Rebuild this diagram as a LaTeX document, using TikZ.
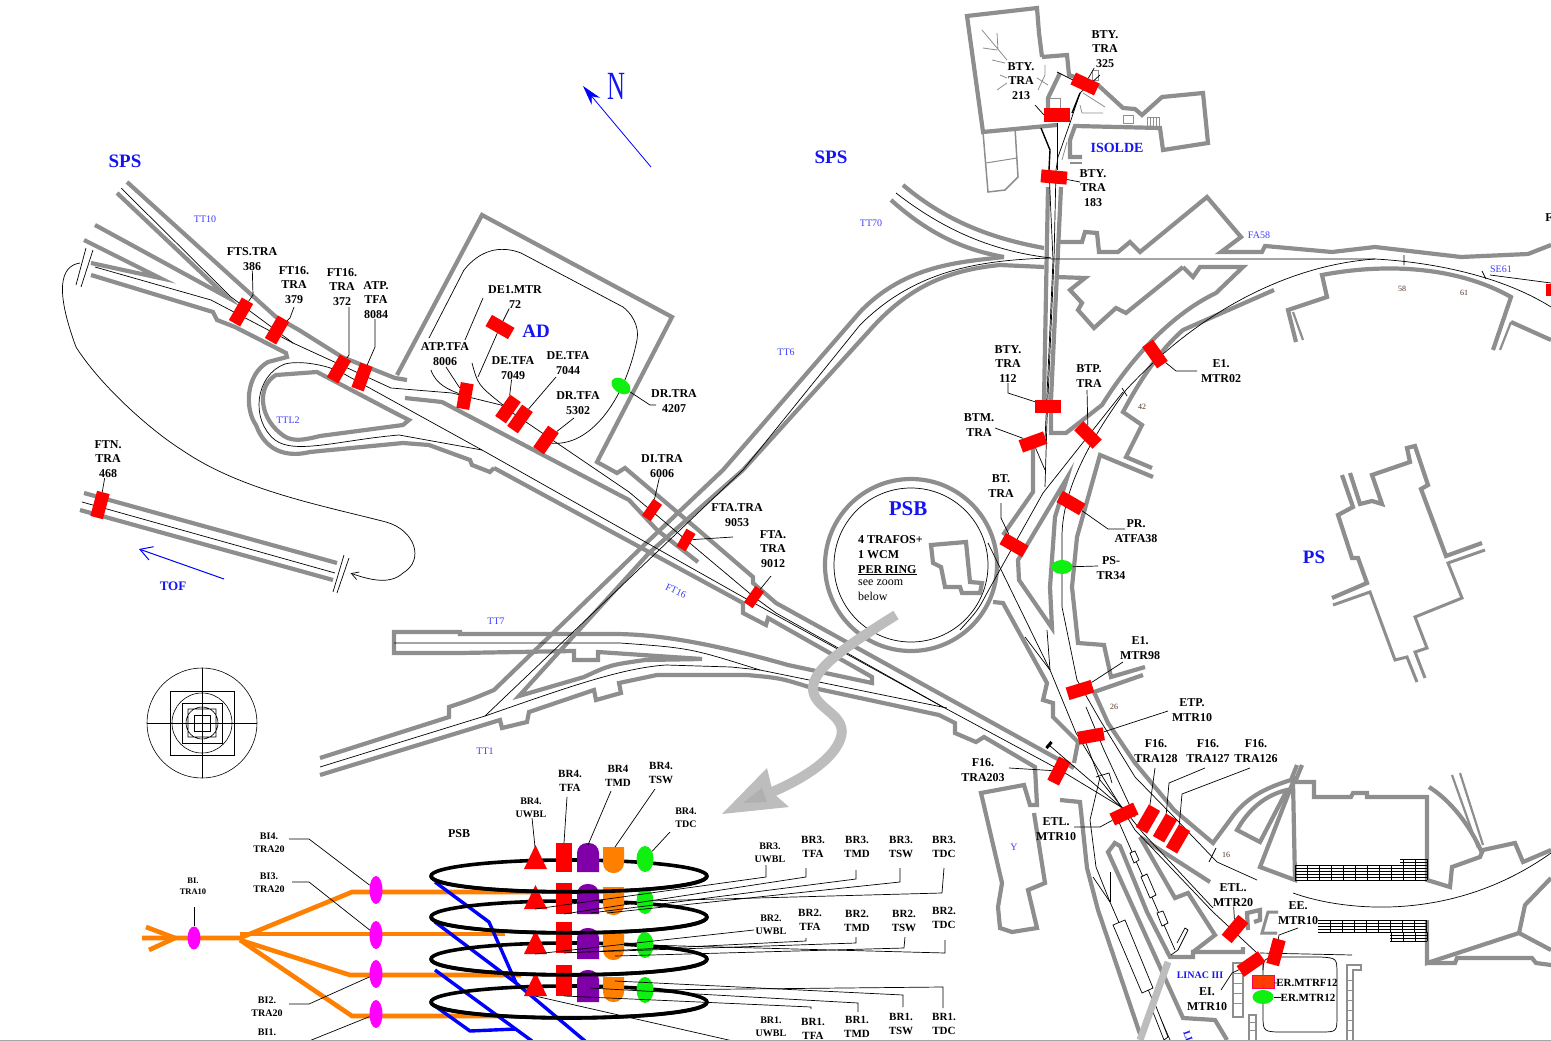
\documentclass[tikz,border=0pt]{standalone}
\usepackage{fontspec}
\setmainfont{Liberation Serif}
\usetikzlibrary{arrows.meta,shapes.geometric}
\definecolor{wallgray}{HTML}{8E8E8E}
\definecolor{arrowgray}{HTML}{BDBDBD}
\definecolor{namblue}{HTML}{1414F0}
\definecolor{nrblue}{HTML}{3C3CFF}
\definecolor{ringorange}{HTML}{FF8000}
\definecolor{ringpurple}{HTML}{7F00A8}
\definecolor{ringgreen}{HTML}{10F010}
\definecolor{ringpink}{HTML}{FF00FF}
\definecolor{nbrown}{HTML}{503020}
\begin{document}
\begin{tikzpicture}[
  x=1pt,y=-1pt,
  wall/.style={draw=wallgray,line width=4.2pt},
  thinwall/.style={draw=wallgray,line width=2.2pt},
  beam/.style={draw=black,line width=.7pt},
  lead/.style={draw=black,line width=.7pt},
  mag/.style={
    rectangle,
    fill=red,
    inner sep=0pt,
    minimum width=26pt,
    minimum height=13pt
  },
  magn/.style={mag,minimum width=20pt,minimum height=10.5pt},
  wcm/.style={ellipse,fill=ringgreen,inner sep=0pt,minimum width=21pt,minimum height=14pt},
  tag/.style={font=\fontsize{12}{14.8}\selectfont\bfseries,align=center,inner sep=0pt},
  tagn/.style={font=\fontsize{10}{13}\selectfont\bfseries,align=center,inner sep=0pt},
  tagm/.style={font=\fontsize{11}{14}\selectfont\bfseries,align=center,inner sep=0pt},
  area/.style={font=\fontsize{19}{20}\selectfont\bfseries,text=namblue,inner sep=0pt},
  tunnel/.style={font=\fontsize{10}{11}\selectfont,text=nrblue,inner sep=0pt},
  km/.style={font=\fontsize{8}{9}\selectfont,text=nbrown,inner sep=0pt},
  bi/.style={ellipse,fill=ringpink,inner sep=0pt,minimum width=13pt,minimum height=28pt},
  tdc/.style={ellipse,fill=ringgreen,inner sep=0pt,minimum width=17pt,minimum height=26pt},
  ring/.style={draw=black,line width=3.6pt},
  inj/.style={draw=ringorange,line width=4.6pt},
  rec/.style={draw=blue,line width=3.4pt}]
  \useasboundingbox (0,0) rectangle (1551,1041);

  % TT10 and the loop
  \draw[wall] (127,182) -- (276,317) -- (299,330) -- (342,357) -- (395,378) -- (407,380);
  \draw[wall] (117,193) -- (227,297) -- (95,225);
  \draw[wall] (84,240) -- (160,278) -- (91,263);
  \draw[wall] (91,275) -- (213,312) -- (217,320) -- (235,327) -- (286,353) -- (287,357) -- (268,362)
    .. controls (245,375) and (245,410) .. (256,425) .. controls (265,450) and (285,458) .. (310,452)
    -- (403,443) -- (429,445) -- (470,460) -- (472,465) -- (490,472) -- (494,468);
  \draw[wall] (317,372) -- (276,375) .. controls (258,385) and (258,415) .. (280,433)
    .. controls (290,442) and (300,441) .. (320,436) -- (403,425) -- (409,420) -- (399,415) -- cycle;
  % AD hall
  \draw[wall] (397,375) -- (482,215) -- (672,317) -- (597,462) -- (617,473) -- (625,468) -- (696,528)
    -- (753,577) -- (753,583) -- (776,603) -- (1074,768);
  \draw[wall] (405,398) -- (442,402) -- (629,500) -- (657,530) -- (698,562);
  \draw[wall] (494,468) -- (743,603) -- (743,613) -- (766,625) -- (768,618) -- (872,677) -- (872,683) -- (788,665)
    .. controls (700,640) and (650,634) .. (613,634) -- (460,634) -- (460,632) -- (394,632) -- (394,653) -- (460,653)
    -- (574,651) -- (574,660) -- (598,660) -- (598,652) -- (702,659) -- (645,660)
    .. controls (610,665) .. (584,677) -- (519,696) -- (649,553) -- (743,470) -- (870,330)
    .. controls (910,285) and (950,270) .. (1000,265) -- (1044,267);
  % TOF line
  \draw[wall] (84,493) -- (337,563);
  \draw[wall] (80,510) -- (333,580);
  % TT6 and TT1
  \draw[wall] (320,758) -- (449,717) -- (449,707) .. controls (470,700) .. (494,690) -- (641,548) -- (723,470)
    -- (860,312) .. controls (905,265) and (960,262) .. (1004,257);
  \draw[wall] (320,775) -- (500,720) -- (502,728) -- (527,722) -- (529,712) -- (594,690) -- (596,700) -- (621,693)
    -- (619,683) -- (657,675) -- (747,675) .. controls (780,678) .. (809,687) -- (939,715) -- (955,723) -- (955,733)
    -- (976,742) -- (984,737) -- (1035,767) -- (1037,805) -- (1030,805) -- (1024,785) -- (981,793) -- (1002,883)
    -- (998,907) -- (1000,928) -- (1012,932) -- (1037,928) -- (1028,890) -- (1045,883) -- (1034,813);
  % TT70 and the BT line
  \draw[wall] (903,185) .. controls (950,225) and (1000,240) .. (1044,248);
  \draw[wall] (891,200) .. controls (930,235) and (965,250) .. (1004,257);
  \draw[wall] (1048,187) -- (1044,400);
  \draw[wall] (1061,187) -- (1051,400) -- (1051,433) -- (1066,433) -- (1102,405)
    .. controls (1130,360) and (1170,315) .. (1216,293) -- (1243,267) -- (1200,267) -- (1193,277) -- (1183,267);
  \draw[wall] (1183,267) -- (1126,313) -- (1116,308) -- (1094,328) -- (1078,310) -- (1082,303) -- (1070,290) -- (1085,278) -- (1056,277);
  \draw[wall] (1059,242) -- (1082,242) -- (1085,232) -- (1097,233) -- (1099,252) -- (1118,252) -- (1130,242) -- (1140,252)
    -- (1207,197) -- (1241,237) -- (1221,252) -- (1262,252) -- (1265,246) -- (1332,252) -- (1375,247) -- (1461,257)
    -- (1528,254) -- (1551,245);
  % PS ring, inner side
  \draw[wall] (1274,290) -- (1183,330) .. controls (1160,350) and (1140,380) .. (1123,412) -- (1142,425) -- (1126,457)
    -- (1152,468);
  \draw[wall] (1153,477) -- (1100,455) -- (1077,537) -- (1072,587) -- (1078,643) -- (1104,645)
    -- (1111,677) -- (1145,667);
  \draw[wall] (1143,675) -- (1094,692) -- (1108,723) -- (1135,763) -- (1174,810) -- (1213,843) -- (1230,820)
    .. controls (1245,798) and (1265,788) .. (1291,780) -- (1297,765);
  \draw[wall] (1302,765) -- (1295,782) -- (1314,782) -- (1314,797) -- (1351,797) -- (1353,793) -- (1367,793) -- (1367,797)
    -- (1427,797) -- (1427,880) -- (1450,887) -- (1452,867) -- (1480,857) -- (1483,850) -- (1515,843) -- (1523,862) -- (1551,850);
  \draw[wall] (1237,830) -- (1260,842) -- (1287,790) .. controls (1265,795) and (1248,810) .. cycle;
  \draw[wall] (1293,782) -- (1260,867) -- (1295,880) -- cycle;
  \draw[wall] (1429,787) .. controls (1450,800) and (1470,825) .. (1482,853);
  \draw[thinwall] (1452,775) -- (1478,848);
  \draw[thinwall] (1460,773) -- (1483,845);
  \draw[wall] (1427,920) -- (1427,963) -- (1519,933) -- (1551,950);
  \draw[wall] (1427,963) -- (1455,963) -- (1457,958) -- (1532,958) -- (1536,963) -- (1551,965);
  \draw[wall] (1519,933) -- (1525,905) -- (1551,878);
  % PS ring, north side
  \draw[wall] (1296,342) -- (1288,310) -- (1327,297) -- (1322,275) .. controls (1390,262) and (1460,268) .. (1511,297)
    -- (1493,350);
  \draw[wall] (1511,322) -- (1551,340);
  \draw[thinwall] (1303,340) -- (1293,312);
  \draw[thinwall] (1500,350) -- (1511,322);
  % PS buildings
  \draw[wall] (1342,475) -- (1353,507) -- (1338,515) -- (1352,558) -- (1358,558) -- (1367,583) -- (1332,598);
  \draw[wall] (1350,473) -- (1360,504) -- (1372,501) -- (1382,504) -- (1372,475) -- (1410,462) -- (1407,448) -- (1415,446)
    -- (1428,485) -- (1421,489) -- (1446,556) -- (1482,543);
  \draw[wall,line width=3pt] (1333,605) -- (1370,592) -- (1395,660) -- (1407,657) -- (1417,682);
  \draw[wall,line width=3pt] (1425,678) -- (1415,652) -- (1427,648) -- (1415,617) -- (1462,598) -- (1448,563) -- (1485,550);
  % ISOLDE
  \draw[wall] (1042,57) -- (1067,55) -- (1069,75) -- (1098,85) -- (1123,108) -- (1135,109) -- (1142,115) -- (1162,97)
    -- (1203,93) -- (1208,143) -- (1163,150) -- (1160,128) -- (1075,126) -- (1070,140) -- (1070,157) -- (1082,157);
  \draw[thinwall] (1070,163) -- (1082,163);
  \draw[wall] (1042,57) -- (1039,33) -- (1037,8) -- (967,16) -- (983,132) -- (1057,125);
  \draw[wall] (1060,73) -- (1048,98) -- (1048,108);
  \draw[thinwall,line width=1.5pt] (983,132) -- (988,192) -- (1005,190) -- (1018,177) -- (1015,128);
  \draw[thinwall,line width=1pt] (986,163) -- (1017,158);
  \draw[draw=wallgray,line width=.8pt] (982,30) -- (1007,60) (997,33) -- (998,50) (983,48) -- (997,50) (992,60) -- (1005,63)
    (1000,75) -- (1007,78) (997,90) -- (1007,83) (1045,65) -- (1045,75) -- (1038,90) (1037,78) -- (1048,85) (1082,113) -- (1103,113)
    (1083,93) -- (1105,107) (1080,105) -- (1082,113) (1067,142) -- (1062,160);
  \draw[draw=wallgray,line width=.7pt] (1123,115) rectangle (1133,123) (1147,117) rectangle (1159,127)
    (1092,70) rectangle (1098,80) (1048,98) rectangle (1060,108);
  \foreach \hx in {1150,1153,1156} {\draw[draw=wallgray,line width=.6pt] (\hx,117) -- (\hx,127);}
  % east side of the line down to LINAC
  \draw[wall] (1033,448) -- (1033,492) -- (1003,535);
  \draw[wall] (1067,478) -- (1018,560) -- (1019,580) -- (1052,628) -- (1050,587) -- (1055,517) -- cycle;
  \draw[wall] (993,602) -- (1003,603) -- (1047,683) -- (1043,700) -- (1053,703) -- (1053,717) -- (1078,742) -- (1074,763);
  \draw[wall] (1060,800) -- (1080,802) -- (1087,868) -- (1098,910) -- (1142,1040);
  \draw[wall] (1115,843) -- (1108,852) -- (1183,1018) -- (1215,1020) -- (1227,1040);
  \draw[wall] (1113,842) -- (1120,846) -- (1147,912) -- (1170,957) -- (1193,957) -- (1193,952) -- (1243,952) -- (1243,947);
  \draw[wall] (1140,837) -- (1175,898) -- (1188,893) -- (1215,935) -- (1193,952);
  \draw[wall] (1140,837) -- (1210,882);
  \draw[wall] (1248,930) -- (1247,913) -- (1260,910) -- (1260,920) -- (1254,922);
  \draw[wall,line width=3pt] (1277,933) -- (1262,933) -- (1268,912) -- (1278,912);
  % PSB
  \draw[wall] (911,565) circle (86);
  \draw[beam] (911,565) circle (77);
  \draw[wall] (931,545) -- (966,542) -- (970,582) -- (982,583) -- (980,593) -- (962,593) -- (960,587) -- (945,587) -- (941,567) -- (933,563) -- cycle;
  % hatching of the stairs
  \foreach \hy in {865,868,871,874,877,880} {\draw[line width=.4pt] (1295,\hy) -- (1427,\hy);}
  \foreach \hy in {859,862} {\draw[line width=.4pt] (1400,\hy) -- (1427,\hy);}
  \foreach \hx in {1295,1307,...,1427} {\draw[line width=.4pt] (\hx,865) -- (\hx,880);}
  \foreach \hx in {1403,1415,1427} {\draw[line width=.4pt] (\hx,859) -- (\hx,865);}
  \foreach \hy in {920,923,926,929,932} {\draw[line width=.4pt] (1318,\hy) -- (1427,\hy);}
  \foreach \hy in {935,938,941} {\draw[line width=.4pt] (1390,\hy) -- (1427,\hy);}
  \foreach \hx in {1330,1342,...,1426} {\draw[line width=.4pt] (\hx,920) -- (\hx,932);}
  \foreach \hx in {1391,1403,1415,1427} {\draw[line width=.4pt] (\hx,932) -- (\hx,941);}
  \foreach \hy in {973,983,993,1003} {\draw[thinwall,line width=.9pt] (1233,\hy) -- (1243,\hy);}
  \draw[thinwall,line width=1.6pt] (1233,963) -- (1233,1017) -- (1243,1017) -- (1243,963) -- cycle;
  \draw[thinwall,line width=1.6pt] (1249,1041) -- (1249,1015) -- (1256,1015) -- (1256,1041);
  \foreach \hy in {1022,1030} {\draw[thinwall,line width=.9pt] (1249,\hy) -- (1256,\hy);}
  \draw[thinwall,line width=1.6pt] (1347,1041) -- (1347,965) -- (1361,965) -- (1361,970) -- (1353,970) -- (1353,1041);
  \foreach \hy in {980,990,1000,1010,1020,1030} {\draw[thinwall,line width=.9pt] (1347,\hy) -- (1353,\hy);}

  % beams
  \draw[beam] (121,188) -- (231,297) -- (293,343) -- (391,388) -- (452,393) -- (501,405) -- (629,492) -- (754,597) -- (776,613) -- (943,707) -- (1060,770) -- (1121,807);
  \draw[beam] (95,267) -- (211,300) -- (293,343);
  \draw[beam] (346,375) .. controls (330,365) and (300,360) .. (285,364) .. controls (255,375) and (250,420) .. (275,440)
    .. controls (295,455) and (340,440) .. (399,435) -- (482,450) -- (743,597) -- (943,707);
  \draw[beam] (346,375) -- (482,450);
  \draw[beam] (394,643) -- (620,643) .. controls (690,648) .. (760,670) -- (947,708);
  \draw[beam] (320,767) -- (485,716) .. controls (560,690) and (620,668) .. (666,665) -- (731,667) -- (760,670);
  \draw[beam] (485,716) -- (743,470) -- (860,325) .. controls (915,270) and (980,260) .. (1051,258);
  \draw[beam] (896,193) .. controls (950,235) and (1000,252) .. (1051,258);
  \draw[beam] (82,502) -- (335,573);
  \draw[beam] (1100,75) -- (1080,93) -- (1070,123) -- (1058,157) -- (1056,170) -- (1054,260) -- (1047,420) -- (1045,487);
  \draw[beam] (1057,123) -- (1057,170);
  \draw[beam] (1049,170) -- (1053,260) -- (1045,440);
  \draw[beam,line width=1.4pt] (1080,93) -- (1072,113);
  \draw[beam,line width=1.4pt] (1041,128) -- (1050,150) -- (1049,170);
  \draw[beam] (1057,72) -- (1073,80);
  \draw[beam] (1051,259) -- (1375,259) .. controls (1430,262) and (1500,275) .. (1551,307);
  \draw[beam] (1490,275) -- (1551,283);
  \draw[beam] (1375,259) .. controls (1290,265) and (1200,310) .. (1126,390) .. controls (1090,440) and (1062,490) .. (1062,537)
    -- (1062,607) -- (1077,680) -- (1100,720) -- (1135,777) -- (1174,817) -- (1217,862) -- (1257,880);
  \draw[beam] (1293,893) .. controls (1340,910) and (1450,925) .. (1551,853);
  \draw[beam] (1123,392) -- (1043,493) -- (987,593) .. controls (978,610) .. (960,630);
  \draw[beam] (988,543) -- (1050,670) -- (1076,733) -- (1135,830) -- (1213,912) -- (1257,953) -- (1263,962) -- (1263,970);
  \draw[beam] (1047,630) -- (1050,670);
  \draw[beam] (1025,637) -- (1050,670);
  \draw[beam] (1086,707) -- (1104,750) -- (1135,817);
  \draw[beam] (1086,743) -- (1100,780) -- (1143,833) -- (1213,908);
  \draw[beam] (1096,777) -- (1109,773) -- (1112,783);
  \draw[beam] (1100,777) -- (1090,820) -- (1096,867) -- (1110,902) -- (1170,1040);
  \draw[beam] (1093,877) -- (1110,902);
  \draw[beam] (1110,872) -- (1110,902);
  \draw[beam] (1118,820) -- (1175,950);
  \draw[beam,fill=white] (1113,925) -- (1125,920) -- (1153,988) -- (1142,993) -- cycle;
  \draw[beam,fill=white] (1151,1007) -- (1155,1004) -- (1168,1037) -- (1164,1040) -- cycle;
  \draw[beam,fill=white] (1130,853) -- (1135,851) -- (1139,860) -- (1134,863) -- cycle;
  \draw[beam,fill=white] (1141,877) -- (1147,874) -- (1156,895) -- (1150,898) -- cycle;
  \draw[beam,fill=white] (1157,913) -- (1163,911) -- (1168,923) -- (1162,926) -- cycle;
  \draw[beam] (1177,943) -- (1185,928) -- (1188,930) -- (1178,950) -- (1171,955);
  \draw[beam] (1260,953) -- (1352,955);
  \draw[beam] (1263,975) .. controls (1263,958) .. (1280,957) -- (1320,957) .. controls (1337,958) .. (1337,975)
    -- (1337,1015) .. controls (1337,1032) .. (1320,1032) -- (1285,1032) .. controls (1263,1032) .. (1263,1015) -- (1263,1000);
  \draw[beam] (550,443) .. controls (590,448) and (625,400) .. (637,340) .. controls (640,325) and (630,312) .. (623,307) -- (521,253)
    .. controls (500,245) and (480,250) .. (464,270) -- (429,338);
  % loop to TOF with its arrow
  \node[inner sep=0pt] (tofend) at (350,573) {};
  \draw[beam,-{Straight Barb[length=7pt,width=8pt]}] (80,263) .. controls (60,266) and (55,290) .. (76,347)
    .. controls (100,385) and (150,430) .. (182,450) .. controls (240,490) and (320,505) .. (386,522)
    .. controls (415,530) and (425,560) .. (403,573) .. controls (390,585) and (370,580) .. (tofend);
  \draw[beam] (86,248) -- (76,285) (93,250) -- (81,287);
  \draw[beam] (344,555) -- (333,592) (349,558) -- (337,593);

  % compass
  \node[circle,draw,line width=.6pt,minimum size=110pt,inner sep=0pt] (comp) at (202,723) {};
  \draw[line width=.6pt] (147,723) -- (257,723) (202,668) -- (202,778);
  \draw[line width=.6pt] (170,691) rectangle (234,755);
  \draw[line width=.6pt] (202,723) circle (30);
  \draw[line width=.6pt] (182,703) rectangle (222,743);
  \draw[line width=.6pt] (188,709) rectangle (216,737) (202,723) circle (16);
  \draw[line width=.6pt] (194,715) rectangle (210,731);

  % big arrow to the zoom
  \draw[arrowgray,line width=10pt] (896,615) .. controls (840,650) and (812,670) .. (813,690) .. controls (815,710) and (850,715) .. (840,740) .. controls (830,765) and (790,785) .. (765,795);
  \fill[arrowgray] (722,814) -- (767,768) -- (773,793) -- (789,807) -- cycle;
  \fill[wallgray!70] (743,803) -- (762,788) -- (767,802) -- cycle;
  \draw[arrowgray,line width=7pt] (1168,962) -- (1140,1040);

  % north and TOF arrows
  \node[font=\fontsize{40}{40}\selectfont,text=namblue,inner sep=0pt] (north) at (616,86) {\scalebox{.62}[1]{N}};
  \coordinate (nfoot) at (651,167);
  \coordinate (ntip) at (583,86);
  \draw[blue,line width=.8pt,-{Stealth[length=20pt,width=11pt]}] (nfoot) -- (ntip);
  \coordinate (tfoot) at (224,579);
  \coordinate (ttip) at (139,549);
  \draw[blue,line width=1pt,-{Straight Barb[length=12pt,width=14pt]}] (tfoot) -- (ttip);

  % areas and tunnels
  \node[area] (spsa) at (125,161) {SPS};
  \node[area] (spsb) at (831,157) {SPS};
  \node[area] (ad) at (536,331) {AD};
  \node[area,font=\fontsize{21}{22}\selectfont\bfseries] (psb) at (908,509) {PSB};
  \node[area] (ps) at (1314,557) {PS};
  \node[area,font=\fontsize{14}{15}\selectfont\bfseries] (isolde) at (1117,148) {ISOLDE};
  \node[area,font=\fontsize{13}{14}\selectfont\bfseries] (tof) at (173,586) {TOF};
  \node[area,font=\fontsize{10}{11}\selectfont\bfseries] (linac) at (1200,975) {LINAC III};
  \node[area,font=\fontsize{10}{11}\selectfont\bfseries,rotate=-70] (linacb) at (1188,1036) {LI};
  \node[tunnel] (tt10) at (205,219) {TT10};
  \node[tunnel] (tt70) at (871,223) {TT70};
  \node[tunnel] (tt6) at (786,352) {TT6};
  \node[tunnel] (ttl2) at (288,420) {TTL2};
  \node[tunnel] (tt7) at (496,621) {TT7};
  \node[tunnel] (tt1) at (485,751) {TT1};
  \node[tunnel,rotate=-25] (ft16) at (676,591) {FT16};
  \node[tunnel] (fa58) at (1259,235) {FA58};
  \node[tunnel] (se61) at (1501,269) {SE61};
  \node[tunnel] (ybld) at (1014,847) {Y};
  \node[km] (k58) at (1402,289) {58};
  \node[km] (k61) at (1464,293) {61};
  \node[km] (k42) at (1142,407) {42};
  \node[km] (k26) at (1114,707) {26};
  \node[km] (k16) at (1226,855) {16};
  \draw[beam] (1404,255) -- (1404,265) (1482,271) -- (1486,279) (1122,388) -- (1127,396) (1209,862) -- (1216,848);

  % trafos, west side
  \node[mag,rotate=60] (fts386) at (241,312) {};
  \node[mag,rotate=60] (ft379) at (277,330) {};
  \node[mag,rotate=60] (ft372) at (339,369) {};
  \node[mag,rotate=70] (atp8084) at (362,377) {};
  \node[mag,rotate=-30] (de172) at (500,327) {};
  \node[mag,rotate=80] (atp8006) at (465,396) {};
  \node[mag,rotate=55] (de7049) at (508,409) {};
  \node[mag,rotate=55] (de7044) at (520,419) {};
  \node[mag,rotate=55] (dr5302) at (546,440) {};
  \node[magn,rotate=55] (di6006) at (652,510) {};
  \node[magn,rotate=60] (fta9053) at (686,540) {};
  \node[magn,rotate=55] (fta9012) at (754,597) {};
  \node[mag,rotate=75] (ftn468) at (100,505) {};
  \node[wcm,rotate=-35] (dr4207) at (621,386) {};
  \node[tag] (lfts386) at (252,259) {FTS.TRA\\386};
  \node[tag] (lft379) at (294,285) {FT16.\\TRA\\379};
  \node[tag] (lft372) at (342,287) {FT16.\\TRA\\372};
  \node[tag] (latp8084) at (376,300) {ATP.\\TFA\\8084};
  \node[tag] (lde172) at (515,297) {DE1.MTR\\72};
  \node[tag] (latp8006) at (445,354) {ATP.TFA\\8006};
  \node[tag] (lde7049) at (513,368) {DE.TFA\\7049};
  \node[tag] (lde7044) at (568,363) {DE.TFA\\7044};
  \node[tag] (ldr5302) at (578,403) {DR.TFA\\5302};
  \node[tag] (ldr4207) at (674,401) {DR.TRA\\4207};
  \node[tag] (ldi6006) at (662,466) {DI.TRA\\6006};
  \node[tag] (lfta9053) at (737,515) {FTA.TRA\\9053};
  \node[tag] (lfta9012) at (773,549) {FTA.\\TRA\\9012};
  \node[tag] (lftn468) at (108,459) {FTN.\\TRA\\468};
  \draw[lead] (lfts386) -- (253,295) -- (fts386);
  \draw[lead] (lft379) ++(0,22) -- (290,318) -- (ft379);
  \draw[lead] (349,307) -- (349,355) -- (ft372);
  \draw[lead] (latp8084.south) ++(-1,0) -- (375,347) -- (atp8084);
  \draw[lead] (lde172) -- (de172);
  \draw[lead] (de172) -- (478,377);
  \draw[lead] (483,298) -- (465,340);
  \draw[lead] (472,363) .. controls (478,385) .. (de7049);
  \draw[lead] (446,367) -- (atp8006);
  \draw[lead] (431,370) .. controls (436,385) and (450,390) .. (atp8006);
  \draw[lead] (lde7049) -- (de7049);
  \draw[lead] (556,377) -- (de7044);
  \draw[lead] (574,418) -- (dr5302);
  \draw[lead] (dr4207) -- (650,405) -- (656,405);
  \draw[lead] (ldi6006) -- (di6006);
  \draw[lead] (733,537) -- (fta9053);
  \draw[lead] (771,576) -- (fta9012);
  \draw[lead] (lftn468) -- (ftn468);

  % trafos, east side
  \node[mag,rotate=-25] (bty325) at (1085,84) {};
  \node[mag,minimum height=14pt] (bty213) at (1057,115) {};
  \node[mag,rotate=-5] (bty183) at (1054,177) {};
  \node[mag,minimum height=13pt] (bty112) at (1048,406) {};
  \node[mag,rotate=20] (btm) at (1033,442) {};
  \node[mag,rotate=-45] (btp) at (1088,435) {};
  \node[mag,rotate=-30] (bt) at (1014,545) {};
  \node[mag,rotate=-55] (e1mtr02) at (1155,354) {};
  \node[mag,rotate=-30] (pratfa) at (1071,503) {};
  \node[wcm] (pstr34) at (1062,567) {};
  \node[mag,rotate=17] (e1mtr98) at (1080,690) {};
  \node[mag,rotate=10] (etpmtr) at (1091,736) {};
  \node[mag,rotate=63] (f16203) at (1059,771) {};
  \node[mag,rotate=25] (etl10) at (1124,814) {};
  \node[mag,rotate=60] (f16128) at (1148,819) {};
  \node[mag,rotate=60] (f16127) at (1165,828) {};
  \node[mag,rotate=60] (f16126) at (1178,839) {};
  \node[mag,rotate=50] (etl20) at (1235,929) {};
  \node[mag,rotate=75] (eemtr) at (1276,952) {};
  \node[mag,rotate=35] (eimtr) at (1251,964) {};
  \node[mag,minimum width=22pt,minimum height=13pt,fill={rgb,255:red,255;green,60;blue,0},draw={rgb,255:red,255;green,0;blue,90},line width=.6pt] (ermtrf) at (1263,982) {};
  \node[wcm] (ermtr) at (1263,997) {};
  \node[fill=black,rotate=50,inner sep=0pt,minimum width=8pt,minimum height=3pt] (fstop) at (1049,745) {};
  \node[tag] (lbty325) at (1105,49) {BTY.\\TRA\\325};
  \node[tag] (lbty213) at (1021,81) {BTY.\\TRA\\213};
  \node[tag] (lbty183) at (1093,188) {BTY.\\TRA\\183};
  \node[tag] (lbty112) at (1008,364) {BTY.\\TRA\\112};
  \node[tag] (lbtm) at (979,425) {BTM.\\TRA};
  \node[tag] (lbtp) at (1089,376) {BTP.\\TRA};
  \node[tag] (lbt) at (1001,486) {BT.\\TRA};
  \node[tag] (le1mtr02) at (1221,371) {E1.\\MTR02};
  \node[tag] (lpratfa) at (1136,531) {PR.\\ATFA38};
  \node[tag] (lpstr34) at (1111,568) {PS-\\TR34};
  \node[tag] (le1mtr98) at (1140,648) {E1.\\MTR98};
  \node[tag] (letpmtr) at (1192,710) {ETP.\\MTR10};
  \node[tag] (lf16203) at (983,770) {F16.\\TRA203};
  \node[tag] (lf16128) at (1156,751) {F16.\\TRA128};
  \node[tag] (lf16127) at (1208,751) {F16.\\TRA127};
  \node[tag] (lf16126) at (1256,751) {F16.\\TRA126};
  \node[tag] (letl10) at (1056,829) {ETL.\\MTR10};
  \node[tag] (letl20) at (1233,895) {ETL.\\MTR20};
  \node[tag] (leemtr) at (1298,913) {EE.\\MTR10};
  \node[tag] (leimtr) at (1207,999) {EI.\\MTR10};
  \node[tagm] (lermtrf) at (1307,983) {ER.MTRF12};
  \node[tagm] (lermtr) at (1308,998) {ER.MTR12};
  \node[tag] (ledge) at (1549,218) {F};
  \node[fill=red,inner sep=0pt,minimum width=6pt,minimum height=12pt] (edgemag) at (1549,290) {};
  \draw[lead] (lbty325) -- (bty325);
  \draw[lead] (1035,105) -- (1044,115);
  \draw[lead] (bty183) -- (1080,182);
  \draw[lead] (lbty112) ++(0,19) -- (1008,393) -- (bty112);
  \draw[lead] (995,428) -- (btm);
  \draw[lead] (1087,390) -- (btp);
  \draw[lead] (1001,503) -- (1001,518) -- (bt);
  \draw[lead] (btm) -- (1045,470);
  \draw[lead] (e1mtr02) -- (1176,371) -- (1197,371);
  \draw[lead] (pratfa) -- (1108,529) -- (1125,529);
  \draw[lead] (pstr34) -- (1098,566);
  \draw[lead] (e1mtr98) -- (1123,662);
  \draw[lead] (etpmtr) -- (1168,711);
  \draw[lead] (1009,768) -- (f16203);
  \draw[lead] (1155,768) -- (f16128);
  \draw[lead] (1205,768) -- (1169,783) -- (f16127);
  \draw[lead] (1250,768) -- (1182,794) -- (f16126);
  \draw[lead] (1074,827) -- (1100,827) -- (etl10);
  \draw[lead] (letl20) -- (etl20);
  \draw[lead] (1298,928) -- (1279,935) -- (eemtr);
  \draw[lead] (eimtr) -- (1232,973) -- (1221,990);
  \draw[lead] (ermtrf) -- (1277,983);
  \draw[lead] (ermtr) -- (1281,997);
  \draw[lead] (fstop) -- (1121,807);

  % text in the PSB ring
  \node[tag,align=left,anchor=north west,font=\fontsize{12}{15}\selectfont\bfseries] (psbnote) at (858,535) {4 TRAFOS+\\1 WCM\\\underline{PER RING}};
  \node[tag,align=left,anchor=north west,font=\fontsize{12}{15}\selectfont] (psbzoom) at (858,580) {see zoom\\below};

  % zoom of the PSB rings, injection lines
  \draw[inj] (146,927) -- (175,938) -- (149,950);
  \draw[inj] (142,938) -- (240,938) -- (352,892) -- (532,892);
  \draw[inj] (240,934) -- (505,934);
  \draw[inj] (240,940) -- (350,975) -- (521,975);
  \draw[inj] (240,940) -- (352,1016) -- (500,1016);
  \draw[rec] (435,882) -- (489,922) -- (516,983);
  \draw[rec] (435,922) -- (516,983) -- (585,1041);
  \draw[rec] (435,970) -- (532,1041);
  \draw[rec] (435,1006) -- (470,1031) -- (516,1029);
  \node[bi,minimum height=23pt] (bi10) at (194,938) {};
  \node[bi] (bi4) at (376,890) {};
  \node[bi] (bi3) at (376,935) {};
  \node[bi] (bi2) at (376,974) {};
  \node[bi] (bi1) at (376,1014) {};
  % rings first, the monitors over them
  \draw[ring] (569,876) ellipse (138 and 16);
  \draw[ring] (569,917) ellipse (138 and 16);
  \draw[ring] (569,959) ellipse (138 and 16);
  \draw[ring] (569,1002) ellipse (138 and 16);
  \foreach \rr/\ta/\tb/\ra/\rb/\pa/\pb/\oa/\ob/\gg in {
    4/845/869/843/872/843/872/847/873/859,
    3/885/909/883/914/884/914/887/915/901,
    2/930/954/922/953/928/959/933/960/945,
    1/972/996/965/996/970/1002/977/1002/990} {
    \fill[red] (524,\tb) -- (535.5,\ta) -- (547,\tb) -- cycle;
    \fill[red] (556,\ra) rectangle (572,\rb);
    \fill[ringpurple,rounded corners=10pt] (577,\pb) [rounded corners=10pt] -- (577,\pa) -- (599,\pa) [sharp corners] -- (599,\pb) -- cycle;
    \fill[ringorange] (603,\oa) -- (624,\oa) [rounded corners=10pt] -- (624,\ob) -- (603,\ob) [sharp corners] -- cycle;
    \node[tdc] (tdcn\rr) at (645,\gg) {};
    \coordinate (uwbn\rr) at (535,\tb);
    \coordinate (tfan\rr) at (564,\rb);
    \coordinate (tmdn\rr) at (588,\pb);
    \coordinate (tswn\rr) at (613,\ob);
  }
  % front arcs of the rings
  \foreach \ry in {876,917,959,1002} {
    \draw[ring] (431,\ry) .. controls (431,\ry+21) and (707,\ry+21) .. (707,\ry);
  }

  % names in the zoom
  \node[tagn] (lbi4) at (269,843) {BI4.\\TRA20};
  \node[tagn] (lbi3) at (269,883) {BI3.\\TRA20};
  \node[tagn] (lbi2) at (267,1007) {BI2.\\TRA20};
  \node[tagn,anchor=north] (lbi1) at (267,1029) {BI1.};
  \node[tagn,font=\fontsize{8.5}{11}\selectfont\bfseries] (lbi10) at (193,886) {BI.\\TRA10};
  \node[tag] (lpsbz) at (459,834) {PSB};
  \node[tagn] (lu4) at (531,808) {BR4.\\UWBL};
  \node[tagm] (ltf4) at (570,781) {BR4.\\TFA};
  \node[tagm] (ltm4) at (618,776) {BR4\\TMD};
  \node[tagm] (lts4) at (661,773) {BR4.\\TSW};
  \node[tagn] (ltd4) at (686,818) {BR4.\\TDC};
  \node[tagn] (lu3) at (770,853) {BR3.\\UWBL};
  \node[tagm] (ltf3) at (813,847) {BR3.\\TFA};
  \node[tagm] (ltm3) at (857,847) {BR3.\\TMD};
  \node[tagm] (lts3) at (901,847) {BR3.\\TSW};
  \node[tagm] (ltd3) at (944,847) {BR3.\\TDC};
  \node[tagn] (lu2) at (771,925) {BR2.\\UWBL};
  \node[tagm] (ltf2) at (810,920) {BR2.\\TFA};
  \node[tagm] (ltm2) at (857,921) {BR2.\\TMD};
  \node[tagm] (lts2) at (904,921) {BR2.\\TSW};
  \node[tagm] (ltd2) at (944,918) {BR2.\\TDC};
  \node[tagn] (lu1) at (771,1027) {BR1.\\UWBL};
  \node[tagm] (ltf1) at (813,1029) {BR1.\\TFA};
  \node[tagm] (ltm1) at (857,1027) {BR1.\\TMD};
  \node[tagm] (lts1) at (901,1024) {BR1.\\TSW};
  \node[tagm] (ltd1) at (944,1024) {BR1.\\TDC};

  % leaders in the zoom
  \draw[lead] (289,839) -- (309,839) -- (bi4);
  \draw[lead] (292,882) -- (309,882) -- (bi3);
  \draw[lead] (289,1004) -- (309,1004) -- (bi2);
  \draw[lead] (309,1041) -- (bi1);
  \draw[lead] (194,907) -- (bi10);
  \draw[lead] (lu4) -- (535,847);
  \draw[lead] (ltf4) ++(-3,16) -- (564,843);
  \draw[lead] (ltm4) ++(-7,15) -- (588,845);
  \draw[lead] (lts4) ++(-6,16) -- (615,847);
  \draw[lead] (ltd4) ++(-16,14) -- (tdcn4);
  % ring 3
  \draw[lead] (766,865) -- (766,877) -- (uwbn3);
  \draw[lead] (806,868) -- (806,877) -- (tfan3);
  \draw[lead] (856,870) -- (856,879) -- (591,913);
  \draw[lead] (900,868) -- (900,882) -- (607,913);
  \draw[lead] (944,868) -- (942,893) -- (tdcn3);
  % ring 2
  \draw[lead] (754,930) -- (uwbn2);
  \draw[lead] (806,938) -- (806,941) -- (tfan2);
  \draw[lead] (856,937) -- (856,943) -- (588,952);
  \draw[lead] (905,937) -- (904,948) -- (615,956);
  \draw[lead] (945,940) -- (945,953) -- (tdcn2);
  % ring 1
  \draw[lead] (733,1041) -- (uwbn1);
  \draw[lead] (811,1009) -- (811,1007) -- (tfan1);
  \draw[lead] (858,1012) -- (858,1003) -- (590,988);
  \draw[lead] (903,1007) -- (903,995) -- (615,981);
  \draw[lead] (943,1008) -- (943,987) -- (tdcn1);
  \draw[draw=black!35,line width=1pt] (0,1040.5) -- (1551,1040.5);
\end{tikzpicture}
\end{document}
